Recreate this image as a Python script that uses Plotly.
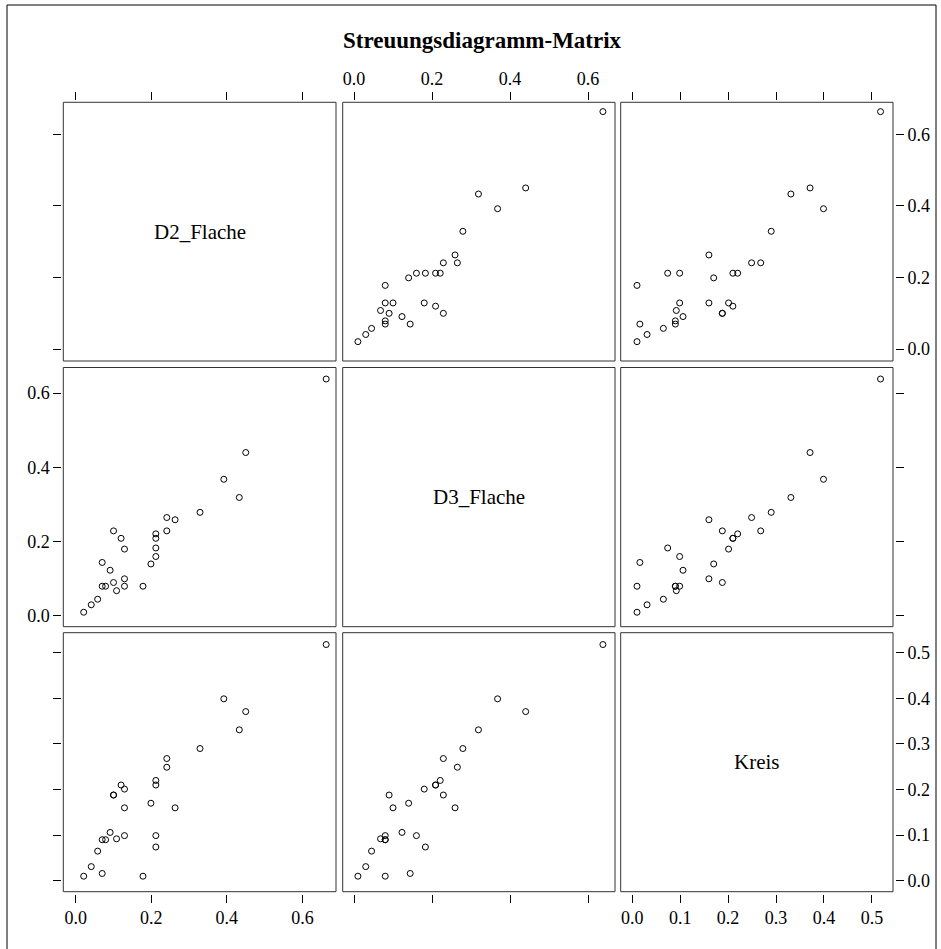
import plotly.graph_objects as go

# Variables of the scatterplot matrix (one value per case, same order in each list)
var_names = ["D2_Flache", "D3_Flache", "Kreis"]

d2_flache = [0.663, 0.450, 0.433, 0.392, 0.329, 0.263, 0.241, 0.241, 0.199, 0.212,
             0.212, 0.212, 0.212, 0.178, 0.129, 0.129, 0.129, 0.120, 0.108, 0.100,
             0.100, 0.091, 0.079, 0.070, 0.070, 0.058, 0.041, 0.021]
d3_flache = [0.638, 0.440, 0.319, 0.368, 0.279, 0.259, 0.265, 0.229, 0.140, 0.160,
             0.183, 0.209, 0.221, 0.080, 0.080, 0.100, 0.180, 0.209, 0.068, 0.229,
             0.090, 0.123, 0.080, 0.080, 0.144, 0.045, 0.030, 0.010]
kreis = [0.518, 0.371, 0.331, 0.399, 0.290, 0.160, 0.249, 0.268, 0.170, 0.099,
         0.074, 0.210, 0.220, 0.010, 0.099, 0.160, 0.201, 0.210, 0.092, 0.188,
         0.188, 0.106, 0.090, 0.090, 0.016, 0.065, 0.031, 0.010]

series = [d2_flache, d3_flache, kreis]

axis_ranges = [[-0.033, 0.689], [-0.029, 0.669], [-0.024, 0.544]]
tick_vals = [[0.0, 0.2, 0.4, 0.6], [0.0, 0.2, 0.4, 0.6], [0.0, 0.1, 0.2, 0.3, 0.4, 0.5]]
tick_text = [["0.0", "0.2", "0.4", "0.6"], ["0.0", "0.2", "0.4", "0.6"],
             ["0.0", "0.1", "0.2", "0.3", "0.4", "0.5"]]

title_text = "Streuungsdiagramm-Matrix"

# Page geometry in pixels
W, H = 941, 949
col_px = [(63.3, 336.0), (342.7, 615.0), (620.7, 893.0)]
row_px = [(102.3, 361.0), (367.5, 626.7), (632.7, 891.7)]
tick_gap = 2.0

FONT = "Times New Roman, Liberation Serif, Times, serif"
tick_font = dict(family=FONT, size=18, color="black")


def fx(px):
    return px / W


def fy(py):
    return 1 - py / H


fig = go.Figure()
layout_axes = {}
shapes = []
annotations = []

for i in range(3):          # row -> y variable
    for j in range(3):      # column -> x variable
        k = i * 3 + j + 1
        xname = "x" if k == 1 else f"x{k}"
        yname = "y" if k == 1 else f"y{k}"
        xkey = "xaxis" if k == 1 else f"xaxis{k}"
        ykey = "yaxis" if k == 1 else f"yaxis{k}"

        base = dict(showgrid=False, zeroline=False, showline=False,
                    fixedrange=True, tickfont=tick_font)

        xa = dict(base, domain=[fx(col_px[j][0]), fx(col_px[j][1])],
                  range=axis_ranges[j], tickvals=tick_vals[j], ticktext=tick_text[j])
        if i == 0:
            xa.update(anchor="free", side="top",
                      position=fy(row_px[0][0] - tick_gap),
                      ticks="outside", ticklen=8, tickwidth=1, tickcolor="black",
                      showticklabels=(j == 1))
        elif i == 2:
            xa.update(anchor="free", side="bottom",
                      position=fy(row_px[2][1] + tick_gap),
                      ticks="outside", ticklen=8, tickwidth=1, tickcolor="black",
                      showticklabels=(j != 1))
        else:
            xa.update(anchor=yname, ticks="", showticklabels=False)

        ya = dict(base, domain=[fy(row_px[i][1]), fy(row_px[i][0])],
                  range=axis_ranges[i], tickvals=tick_vals[i], ticktext=tick_text[i])
        if j == 0:
            ya.update(anchor="free", side="left",
                      position=fx(col_px[0][0] - tick_gap),
                      ticks="outside", ticklen=8, tickwidth=1, tickcolor="black",
                      showticklabels=(i == 1))
        elif j == 2:
            ya.update(anchor="free", side="right",
                      position=fx(col_px[2][1] + tick_gap),
                      ticks="outside", ticklen=8, tickwidth=1, tickcolor="black",
                      showticklabels=(i != 1))
        else:
            ya.update(anchor=xname, ticks="", showticklabels=False)

        layout_axes[xkey] = xa
        layout_axes[ykey] = ya

        if i == j:
            fig.add_trace(go.Scatter(x=[], y=[], xaxis=xname, yaxis=yname,
                                     mode="markers", showlegend=False))
            annotations.append(dict(
                x=(fx(col_px[j][0]) + fx(col_px[j][1])) / 2,
                y=(fy(row_px[i][0]) + fy(row_px[i][1])) / 2,
                xref="paper", yref="paper", text=var_names[i], showarrow=False,
                font=dict(family=FONT, size=21, color="black"),
                xanchor="center", yanchor="middle"))
        else:
            fig.add_trace(go.Scatter(
                x=series[j], y=series[i], xaxis=xname, yaxis=yname,
                mode="markers", showlegend=False, hoverinfo="skip",
                marker=dict(symbol="circle-open", size=6, color="black",
                            line=dict(width=1, color="black"))))

        # panel frame
        shapes.append(dict(type="rect", xref="paper", yref="paper",
                           x0=fx(col_px[j][0]), x1=fx(col_px[j][1]),
                           y0=fy(row_px[i][1]), y1=fy(row_px[i][0]),
                           line=dict(color="#333333", width=1), layer="above"))

# outer page frame
shapes.append(dict(type="rect", xref="paper", yref="paper",
                   x0=fx(7), x1=fx(936), y0=fy(960), y1=fy(5),
                   line=dict(color="black", width=1)))

annotations.append(dict(x=fx(482), y=fy(40), xref="paper", yref="paper",
                        text="<b>" + title_text + "</b>", showarrow=False,
                        font=dict(family=FONT, size=23, color="black"),
                        xanchor="center", yanchor="middle"))

fig.update_layout(
    width=W, height=H, autosize=False,
    margin=dict(l=0, r=0, t=0, b=0),
    paper_bgcolor="white", plot_bgcolor="white",
    font=dict(family=FONT),
    shapes=shapes, annotations=annotations,
    **layout_axes,
)

fig.write_html("out.html", config={"displayModeBar": False})
